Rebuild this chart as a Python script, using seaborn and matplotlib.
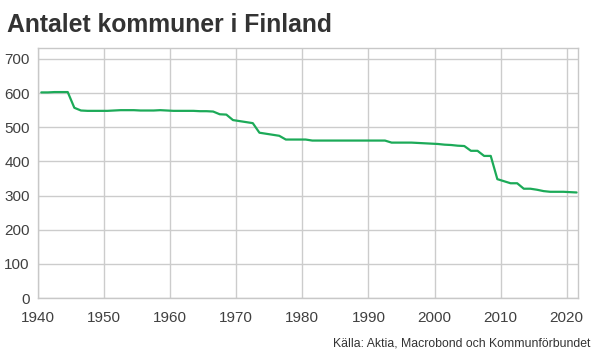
import numpy as np
import pandas as pd
import matplotlib
matplotlib.use("Agg")
import matplotlib.pyplot as plt
import seaborn as sns

# antal kommuner per år
years = list(range(1940, 2022))
kommuner = [602, 602, 603, 603, 603, 557, 549, 548, 548, 548,
            548, 549, 550, 550, 550, 549, 549, 549, 550, 549,
            548, 548, 548, 548, 547, 547, 546, 538, 537, 521,
            518, 515, 512, 484, 481, 478, 475, 464, 464, 464,
            464, 461, 461, 461, 461, 461, 461, 461, 461, 461,
            461, 461, 461, 455, 455, 455, 455, 454, 453, 452,
            451, 449, 448, 446, 445, 431, 431, 416, 416, 348,
            342, 336, 336, 320, 320, 317, 313, 311, 311, 311,
            310, 309]
x_ticks = list(range(1940, 2021, 10))
y_ticks = list(range(0, 701, 100))

title = "Antalet kommuner i Finland"
source = "Källa: Aktia, Macrobond och Kommunförbundet"

df = pd.DataFrame({"year": years, "antal": kommuner})
df["t"] = df["year"] + 0.5  # mitten av året

sns.set_style("white")
plt.rcParams["font.family"] = ["Liberation Sans", "DejaVu Sans"]

fig = plt.figure(figsize=(6.01, 3.61), dpi=100)
ax = fig.add_axes([0.0632, 0.1745, 0.8985, 0.6925])

sns.lineplot(data=df, x="t", y="antal", ax=ax, color="#1caa58", linewidth=1.6)

ax.set_xlim(1940, 2021.7)
ax.set_ylim(0, 732)
ax.set_xticks(x_ticks)
ax.set_yticks(y_ticks)
ax.grid(True, color="#cccccc", linewidth=1.0)
ax.set_axisbelow(True)
for s in ax.spines.values():
    s.set_color("#c8c8c8")
    s.set_linewidth(1.0)
ax.tick_params(axis="both", length=0, labelsize=11, colors="#404040")
ax.tick_params(axis="x", pad=9)
ax.tick_params(axis="y", pad=6)
ax.set_xlabel("")
ax.set_ylabel("")

fig.text(0.012, 0.91, title, fontsize=17.8, fontweight="bold", color="#333333",
         ha="left", va="baseline")
fig.text(0.982, 0.04, source, fontsize=8.8, color="#333333", ha="right",
         va="baseline")

fig.savefig("out.png", dpi=100)
